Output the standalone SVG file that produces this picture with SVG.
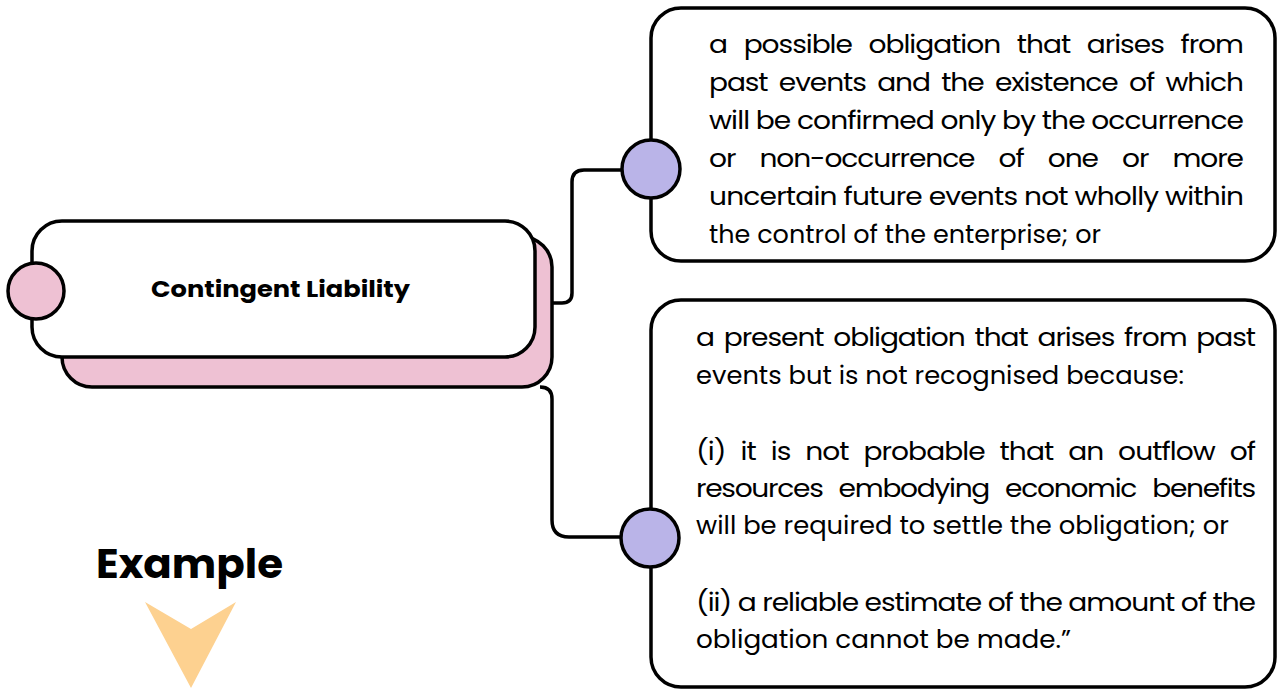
<svg xmlns="http://www.w3.org/2000/svg" width="1278" height="689" viewBox="0 0 1278 689">
<style>
.box{fill:#fff;stroke:#000;stroke-width:3.5}
.shadow{fill:#EEC1D3;stroke:#000;stroke-width:3.5}
.dotp{fill:#EEC1D3;stroke:#000;stroke-width:3.5}
.dotv{fill:#BAB4E8;stroke:#000;stroke-width:3.5}
.conn{fill:none;stroke:#000;stroke-width:3.5}
.body{font-family:"Poppins","Open Sans","Noto Sans",sans-serif;font-size:25px;fill:#000}
.title{font-family:"Poppins","Open Sans","Noto Sans",sans-serif;font-size:22px;font-weight:bold;fill:#000}
.ex{font-family:"Poppins","Open Sans","Noto Sans",sans-serif;font-size:40px;font-weight:bold;fill:#000}
</style>
<rect width="1278" height="689" fill="#fff"/>
<g id="connectors">
<path class="conn" d="M553 303 H562 Q572 303 572 293 V182 Q572 170 584 170 H622"/>
<path class="conn" d="M540 387 Q552 387 552 399 V520 Q552 537 569 537 H622"/>
</g>
<g id="node-contingent">
<rect class="shadow" x="62" y="237" width="490" height="150" rx="30"/>
<rect class="box" x="32" y="221" width="503" height="136" rx="30"/>
<circle class="dotp" cx="36" cy="291" r="28"/>
<text class="title" x="151" y="297" textLength="259" lengthAdjust="spacingAndGlyphs">Contingent Liability</text>
</g>
<g id="node-possible">
<rect class="box" x="651" y="8" width="624" height="253" rx="30"/>
<circle class="dotv" cx="651" cy="169" r="29"/>
<g transform="translate(709 0) scale(1.123 1)">
<text class="body" x="0" y="53" word-spacing="9.1" textLength="476.4" lengthAdjust="spacing">a possible obligation that arises from</text>
<text class="body" x="0" y="91" word-spacing="4.4" textLength="476.4" lengthAdjust="spacing">past events and the existence of which</text>
<text class="body" x="0" y="129" textLength="476.4" lengthAdjust="spacing">will be confirmed only by the occurrence</text>
<text class="body" x="0" y="167" word-spacing="15.8" textLength="476.4" lengthAdjust="spacing">or non-occurrence of one or more</text>
<text class="body" x="0" y="205" textLength="476.4" lengthAdjust="spacing">uncertain future events not wholly within</text>
<text class="body" x="0" y="243" textLength="349" lengthAdjust="spacingAndGlyphs">the control of the enterprise; or</text>
</g>
</g>
<g id="node-present">
<rect class="box" x="651" y="300" width="624" height="387" rx="30"/>
<circle class="dotv" cx="650" cy="538" r="29"/>
<g transform="translate(696 0) scale(1.123 1)">
<text class="body" x="0" y="346" word-spacing="3" textLength="498.7" lengthAdjust="spacing">a present obligation that arises from past</text>
<text class="body" x="0" y="384" textLength="434.5" lengthAdjust="spacingAndGlyphs">events but is not recognised because:</text>
<text class="body" x="0" y="460" word-spacing="7.4" textLength="498.7" lengthAdjust="spacing">(i) it is not probable that an outflow of</text>
<text class="body" x="0" y="497" word-spacing="8.8" textLength="498.7" lengthAdjust="spacing">resources embodying economic benefits</text>
<text class="body" x="0" y="534" textLength="474.6" lengthAdjust="spacingAndGlyphs">will be required to settle the obligation; or</text>
<text class="body" x="0" y="611" textLength="498.7" lengthAdjust="spacing">(ii) a reliable estimate of the amount of the</text>
<text class="body" x="0" y="648" textLength="333.9" lengthAdjust="spacingAndGlyphs">obligation cannot be made.”</text>
</g>
</g>
<g id="node-example">
<text class="ex" x="96" y="578" textLength="187" lengthAdjust="spacingAndGlyphs">Example</text>
<polygon points="145,602 191,629 236,602 191,688" fill="#FDD190"/>
</g>
</svg>
